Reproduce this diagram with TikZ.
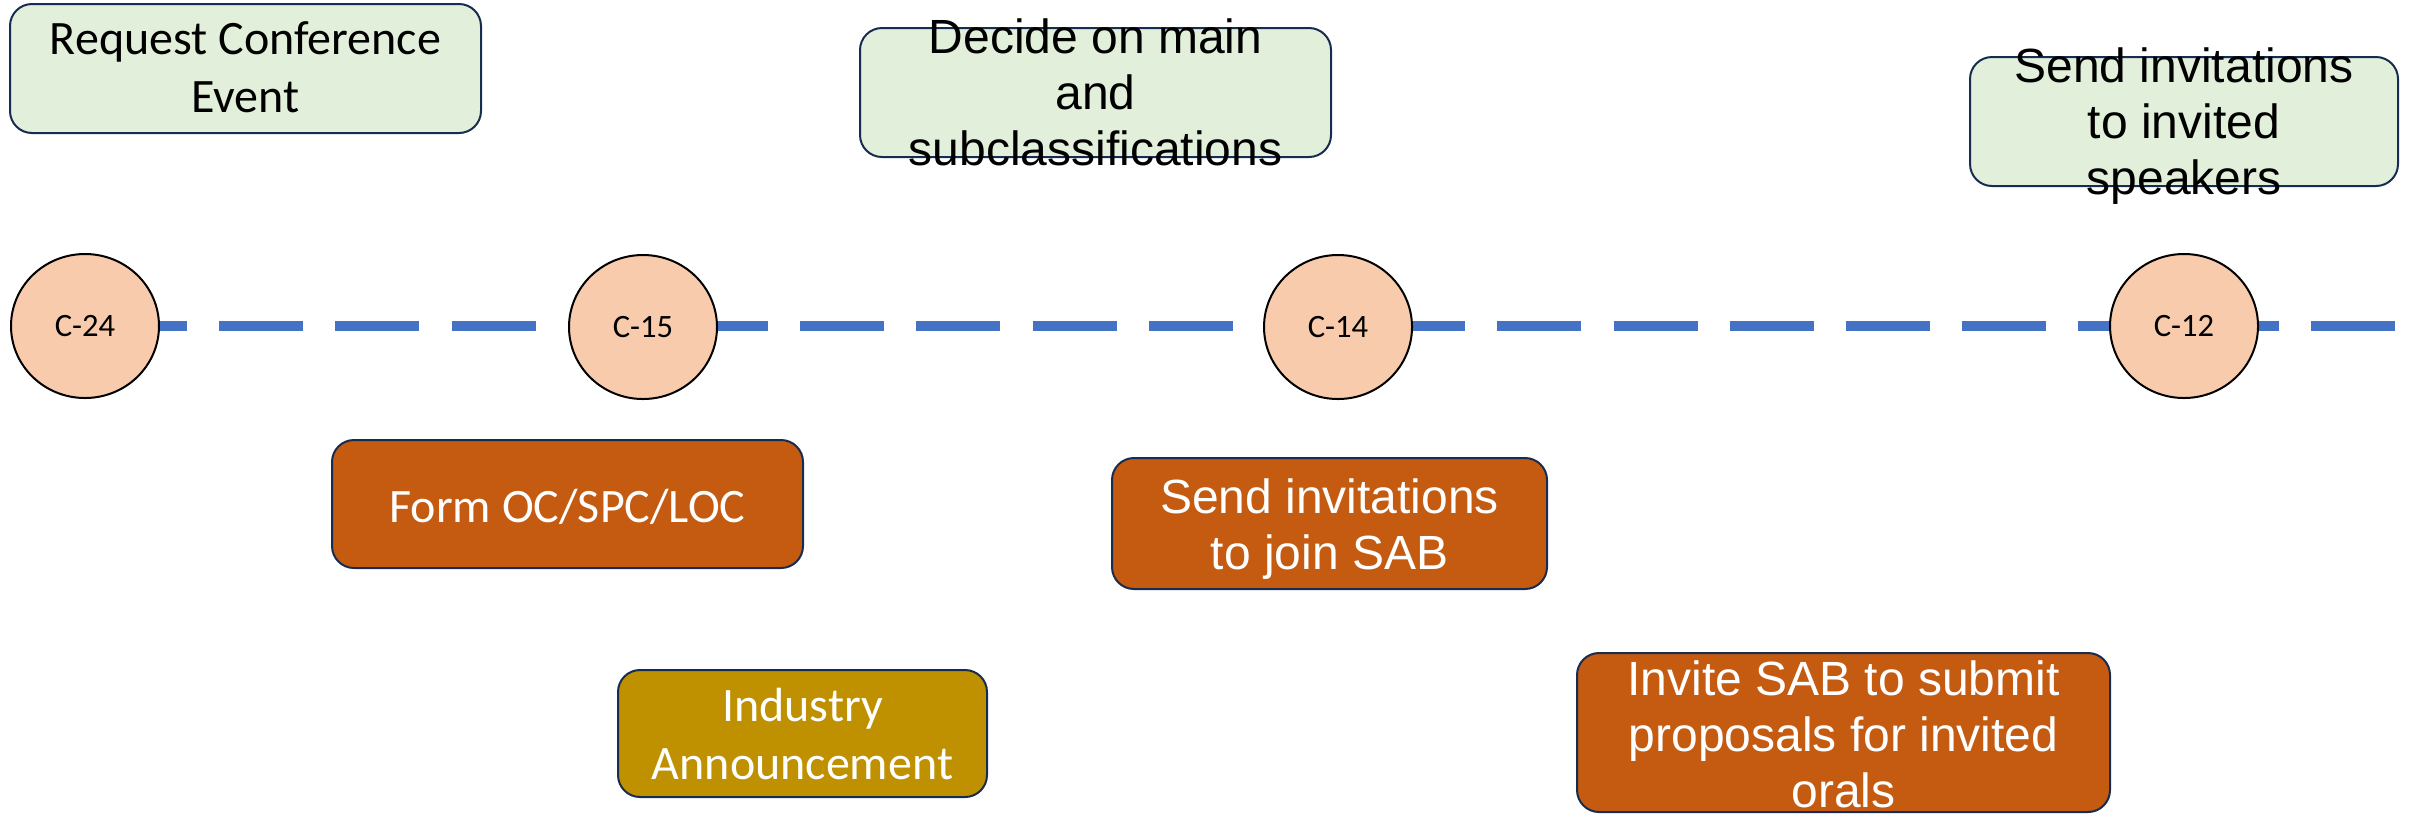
\documentclass[tikz,border=0pt]{standalone}
\usepackage{fontspec}
\setmainfont{Liberation Sans}
\newfontfamily\calib{Carlito}
\usetikzlibrary{shapes.geometric}
\definecolor{gfill}{HTML}{E2EFDA}
\definecolor{navy}{HTML}{172C51}
\definecolor{ofill}{HTML}{C55A11}
\definecolor{yfill}{HTML}{BF9000}
\definecolor{cfill}{HTML}{F8CBAD}
\definecolor{lineblue}{HTML}{4472C4}
\begin{document}
\begin{tikzpicture}[x=0.5pt,y=-0.5pt,
  box/.style={draw=navy, line width=1pt, rounded corners=11pt, inner sep=0pt},
  greenbox/.style={box, fill=gfill},
  orangebox/.style={box, fill=ofill},
  goldbox/.style={box, fill=yfill},
  calibtext/.style={align=center, inner sep=0pt, font=\calib\fontsize{24}{29}\selectfont},
  arialtext/.style={align=center, inner sep=0pt, font=\fontsize{24}{28}\selectfont},
  milestone/.style={ellipse, draw=black, line width=1pt, fill=cfill, minimum width=74pt, minimum height=72pt, inner sep=0pt, font=\calib\fontsize{16.3}{19}\selectfont},
  timeline/.style={draw=lineblue, line width=5pt, dash pattern=on 42pt off 16.1pt, dash phase=49.1pt}]
\useasboundingbox (0,0) rectangle (2412,816);

% timeline
\coordinate (c24pos) at (85,326);
\coordinate (tlend) at (2396,326);
\draw[timeline] (c24pos) -- (tlend);

% milestones
\node[milestone] (c24) at (c24pos) {C-24};
\node[milestone] (c15) at (643,327) {C-15};
\node[milestone] (c14) at (1338,327) {C-14};
\node[milestone] (c12) at (2184,326) {C-12};

% top boxes
\node[greenbox, minimum width=235.5pt, minimum height=64.5pt] (b1) at (245.5,68.5) {};
\node[calibtext] (t1) at (245.5,67.5) {Request Conference\\Event};

\node[greenbox, minimum width=235.5pt, minimum height=64.5pt] (b2) at (1095.5,92.5) {};
\node[arialtext] (t2) at (1095.5,92.5) {Decide on main\\and\\subclassifications};

\node[greenbox, minimum width=214pt, minimum height=64.5pt] (b3) at (2184,121.5) {};
\node[arialtext] (t3) at (2184,126) {Send invitations\\to invited\\speakers};

% bottom boxes
\node[orangebox, minimum width=235.5pt, minimum height=64pt] (b4) at (567.5,504) {};
\node[calibtext, text=white] (t4) at (567.5,507) {Form OC/SPC/LOC};

\node[goldbox, minimum width=184.5pt, minimum height=63.5pt] (b5) at (802.5,733.5) {};
\node[calibtext, text=white] (t5) at (802.5,734) {Industry\\Announcement};

\node[orangebox, minimum width=217.5pt, minimum height=65.5pt] (b6) at (1329.5,523.5) {};
\node[arialtext, text=white] (t6) at (1329.5,529) {Send invitations\\to join SAB};

\node[orangebox, minimum width=266.5pt, minimum height=79.5pt] (b7) at (1843.5,732.5) {};
\node[arialtext, text=white] (t7) at (1843.5,734) {Invite SAB to submit\\proposals for invited\\orals};
\end{tikzpicture}
\end{document}
